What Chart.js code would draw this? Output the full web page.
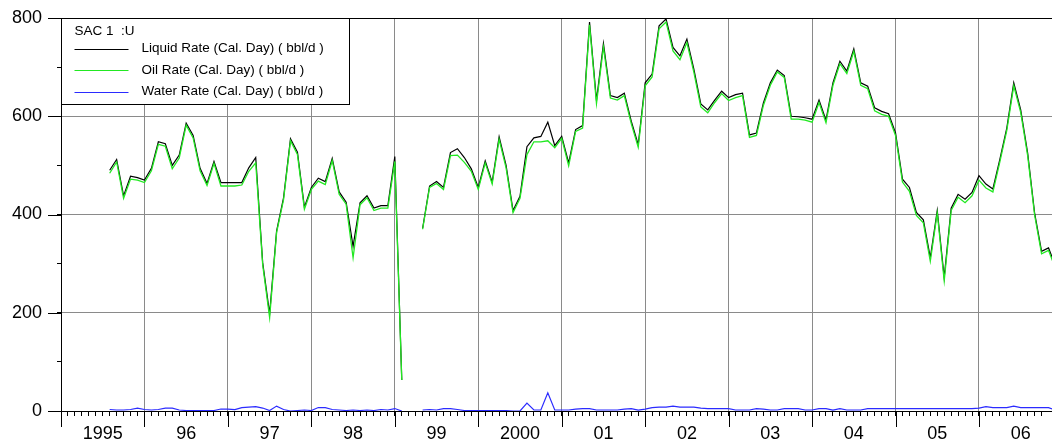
<!DOCTYPE html>
<html>
<head>
<meta charset="utf-8">
<script src="https://cdn.jsdelivr.net/npm/chart.js@4/dist/chart.umd.min.js"></script>
<style>
  body { margin: 0; background: #fff; }
  #wrap { width: 1052px; height: 447px; }
</style>
</head>
<body>
<div id="wrap"><canvas id="myChart"></canvas></div>
<script>
// x values are months counted from Jan 1995, first sample is Aug 1995
var firstMonth = 7;
var lastMonth = 142.5;
var yearLabels = ["1995", "96", "97", "98", "99", "2000", "01", "02", "03", "04", "05", "06"];
var yTickLabels = [0, 200, 400, 600, 800];
var legendTitle = "SAC 1  :U";
var seriesNames = ["Liquid Rate (Cal. Day) ( bbl/d )", "Oil Rate (Cal. Day) ( bbl/d )", "Water Rate (Cal. Day) ( bbl/d )"];
var seriesColors = ["#000000", "#22e822", "#2b2bff"];

var liquidRate = [
  490, 512, 438, 478, 475,
  470, 494, 548, 544, 500, 521, 586, 561, 494, 463, 508, 465,
  465, 465, 465, 495, 516, 302, 198, 366, 434, 554, 527, 415,
  455, 474, 467, 514, 446, 425, 335, 424, 438, 413, 418, 418,
  518, 63, null, null, 372, 458, 467, 455, 526, 534, 516, 493,
  455, 509, 466, 558, 500, 408, 437, 538, 556, 559, 588, 540,
  559, 505, 573, 581, 792, 632, 748, 642, 638, 647, 590, 542,
  668, 686, 784, 798, 740, 723, 757, 696, 625, 613, 633, 651,
  638, 644, 647, 562, 566, 627, 668, 694, 683, 600, 599, 597,
  594, 633, 592, 668, 712, 692, 737, 668, 661, 617, 610, 605,
  566, 472, 455, 404, 389, 312, 408, 272, 413, 441, 431, 445,
  479, 462, 452, 512, 576, 668, 613, 525, 403, 325, 332, 295
];
var oilRate = [
  484, 507, 433, 472, 470,
  465, 489, 543, 539, 493, 515, 582, 556, 489, 459, 504, 458,
  458, 458, 460, 488, 505, 298, 190, 363, 430, 550, 522, 411,
  451, 468, 461, 510, 441, 421, 312, 420, 434, 408, 413, 413,
  508, 63, null, null, 370, 455, 463, 451, 520, 521, 506, 488,
  451, 505, 462, 553, 495, 404, 433, 522, 548, 548, 550, 536,
  555, 499, 569, 576, 786, 626, 741, 637, 633, 642, 585, 537,
  662, 680, 778, 792, 733, 715, 750, 690, 619, 607, 628, 646,
  632, 638, 642, 557, 561, 622, 663, 690, 679, 594, 594, 592,
  588, 628, 587, 663, 707, 687, 732, 663, 656, 611, 604, 600,
  561, 466, 447, 398, 383, 305, 403, 265, 408, 435, 424, 438,
  470, 454, 446, 507, 571, 662, 608, 520, 399, 320, 327, 290
];
var waterRate = [
  3, 2, 2, 3, 6,
  3, 2, 3, 6, 6, 2, 1, 1, 1, 1, 1, 4,
  4, 3, 7, 8, 9, 6, 1, 10, 3, 0, 1, 2,
  1, 7, 7, 3, 2, 1, 2, 1, 2, 1, 3, 2,
  5, 0, null, null, 2, 3, 2, 5, 5, 3, 1, 1,
  1, 1, 1, 1, 1, 0, 0, 16, 2, 2, 37, 2,
  2, 2, 4, 5, 5, 2, 2, 2, 2, 4, 5, 2,
  4, 7, 8, 8, 10, 8, 8, 8, 6, 5, 5, 5,
  5, 2, 2, 2, 5, 4, 2, 2, 5, 5, 5, 2,
  2, 5, 5, 2, 5, 2, 2, 2, 5, 5, 5, 5,
  5, 5, 5, 5, 5, 5, 5, 5, 5, 5, 5, 5,
  6, 9, 7, 7, 7, 10, 7, 7, 7, 7, 7, 2
];

function toPoints(arr) {
  return arr.map((v, i) => ({ x: firstMonth + i, y: v }));
}

const fontName = "'Liberation Sans', Arial, sans-serif";

// long ticks at year starts and at the labelled y values
const longTicks = {
  id: 'longTicks',
  afterDraw(chart) {
    const xs = chart.scales.x, ys = chart.scales.y, ctx = chart.ctx;
    ctx.save();
    ctx.strokeStyle = '#000';
    ctx.lineWidth = 1;
    ctx.beginPath();
    for (let m = 0; m <= xs.max; m += 12) {
      const px = Math.round(xs.getPixelForValue(m)) + 0.5;
      ctx.moveTo(px, ys.bottom);
      ctx.lineTo(px, ys.bottom + 16);
    }
    yTickLabels.forEach(v => {
      const py = Math.round(ys.getPixelForValue(v)) + 0.5;
      ctx.moveTo(xs.left - 13, py);
      ctx.lineTo(xs.left, py);
    });
    ctx.stroke();
    ctx.restore();
  }
};

// boxed legend in the top left corner of the plot
const boxLegend = {
  id: 'boxLegend',
  afterDraw(chart) {
    const ctx = chart.ctx, a = chart.chartArea;
    const left = Math.round(a.left) + 0.5, top = Math.round(a.top) + 0.5;
    ctx.save();
    ctx.fillStyle = '#fff';
    ctx.fillRect(left, top, 288, 86);
    ctx.strokeStyle = '#000';
    ctx.lineWidth = 1;
    ctx.strokeRect(left, top, 288, 86);
    ctx.font = "13.5px " + fontName;
    ctx.fillStyle = '#000';
    ctx.textBaseline = 'middle';
    ctx.fillText(legendTitle, left + 13, top + 13);
    chart.data.datasets.forEach((ds, i) => {
      const y = top + 30 + i * 21.5;
      ctx.strokeStyle = ds.borderColor;
      ctx.beginPath();
      ctx.moveTo(left + 13, Math.round(y) + 0.5);
      ctx.lineTo(left + 67, Math.round(y) + 0.5);
      ctx.stroke();
      ctx.fillStyle = '#000';
      ctx.fillText(ds.label, left + 80, y);
    });
    ctx.restore();
  }
};

new Chart("myChart", {
  type: "line",
  data: {
    datasets: [
      { label: seriesNames[0], data: toPoints(liquidRate), borderColor: seriesColors[0], borderWidth: 1.2, pointRadius: 0, order: 3 },
      { label: seriesNames[1], data: toPoints(oilRate), borderColor: seriesColors[1], borderWidth: 1.3, pointRadius: 0, order: 2 },
      { label: seriesNames[2], data: toPoints(waterRate), borderColor: seriesColors[2], borderWidth: 1.2, pointRadius: 0, order: 1 }
    ]
  },
  options: {
    responsive: true,
    maintainAspectRatio: false,
    animation: false,
    layout: { padding: { top: 18, left: 0, right: 0, bottom: 0 } },
    plugins: { legend: { display: false }, tooltip: { enabled: false } },
    scales: {
      x: {
        type: 'linear',
        min: 0,
        max: lastMonth,
        afterFit: s => { s.height = 36; s.paddingLeft = 0; s.paddingRight = 0; },
        border: { color: '#000', width: 1 },
        grid: {
          color: c => (c.tick && c.tick.value > 0 && c.tick.value % 12 === 0) ? '#8a8a8a' : 'rgba(0,0,0,0)',
          lineWidth: 1,
          tickColor: '#000',
          tickLength: 5
        },
        ticks: {
          stepSize: 1,
          autoSkip: false,
          maxRotation: 0,
          minRotation: 0,
          padding: 7,
          color: '#000',
          font: { family: fontName, size: 18 },
          callback: v => (v % 12 === 6) ? yearLabels[(v - 6) / 12] : ''
        }
      },
      y: {
        min: 0,
        max: 800,
        afterFit: s => { s.width = 61; s.paddingTop = 0; s.paddingBottom = 0; },
        border: { color: '#000', width: 1 },
        grid: {
          color: c => {
            const v = c.tick ? c.tick.value : -1;
            if (v === 800) return '#000';
            return (v % 200 === 0 && v > 0) ? '#8a8a8a' : 'rgba(0,0,0,0)';
          },
          lineWidth: 1,
          tickColor: '#000',
          tickLength: 4
        },
        ticks: {
          stepSize: 50,
          padding: 15,
          color: '#000',
          font: { family: fontName, size: 18 },
          callback: v => (v % 200 === 0) ? String(v) : ''
        }
      }
    }
  },
  plugins: [longTicks, boxLegend]
});
</script>
</body>
</html>
